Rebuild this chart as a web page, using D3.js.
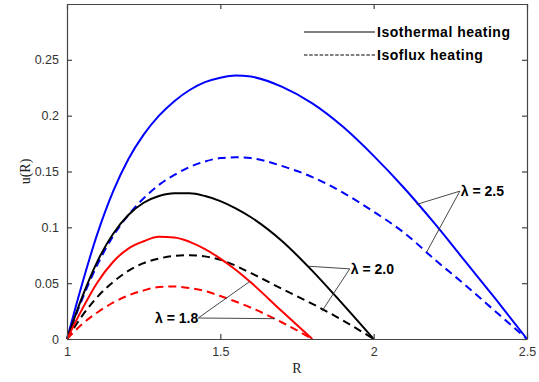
<!DOCTYPE html>
<html lang="en">
<head>
<meta charset="UTF-8">
<title>u(R) profiles</title>
<style>
  body { margin: 0; background: #fff; }
  svg { display: block; }
  .tick text { font-family: 'Liberation Sans', Arial, sans-serif; font-size: 12.5px; fill: #333; }
  .note { font-family: 'Liberation Sans', Arial, sans-serif; font-size: 14px; font-weight: bold; fill: #000; }
  .legend-text { letter-spacing: 0.5px; }
  .axis-title { font-family: 'Liberation Serif', 'Times New Roman', serif; font-size: 14px; fill: #222; }
</style>
</head>
<body>
<svg width="539" height="382"></svg>
<script src="https://d3js.org/d3.v7.min.js"></script>
<script>
// values: [R, u(R)]
const blueSolid = [[1,0],[1.05,0.05],[1.1,0.095],[1.15,0.132],[1.2,0.161],[1.25,0.183],[1.3,0.2],[1.35,0.213],[1.4,0.223],[1.45,0.23],[1.5,0.234],[1.55,0.236],[1.6,0.235],[1.7,0.226],[1.8,0.211],[1.9,0.19],[2.0,0.164],[2.1,0.135],[2.2,0.103],[2.3,0.069],[2.4,0.035],[2.5,0]];
const blueDash = [[1,0],[1.05,0.036],[1.1,0.067],[1.15,0.092],[1.2,0.111],[1.25,0.126],[1.3,0.138],[1.35,0.147],[1.4,0.154],[1.45,0.159],[1.5,0.162],[1.55,0.1627],[1.6,0.162],[1.7,0.155],[1.8,0.145],[1.9,0.131],[2.0,0.114],[2.1,0.095],[2.2,0.071],[2.3,0.048],[2.4,0.024],[2.5,0]];
const blackSolid = [[1,0],[1.05,0.038],[1.1,0.07],[1.15,0.094],[1.2,0.111],[1.25,0.122],[1.3,0.128],[1.35,0.1305],[1.4,0.1305],[1.45,0.128],[1.5,0.1235],[1.55,0.117],[1.6,0.109],[1.7,0.088],[1.8,0.061],[1.9,0.031],[2.0,0]];
const blackDash = [[1,0],[1.05,0.021],[1.1,0.038],[1.15,0.051],[1.2,0.061],[1.25,0.068],[1.3,0.072],[1.35,0.0745],[1.4,0.075],[1.45,0.074],[1.5,0.071],[1.6,0.059],[1.7,0.045],[1.8,0.0315],[1.9,0.0165],[2.0,0]];
const redSolid = [[1,0],[1.05,0.027],[1.1,0.051],[1.15,0.069],[1.2,0.081],[1.25,0.0875],[1.3,0.0915],[1.35,0.091],[1.4,0.087],[1.45,0.0805],[1.5,0.072],[1.55,0.062],[1.6,0.0505],[1.7,0.025],[1.8,0]];
const redDash = [[1,0],[1.05,0.0135],[1.1,0.024],[1.15,0.0325],[1.2,0.039],[1.25,0.0435],[1.3,0.0465],[1.35,0.047],[1.4,0.0457],[1.45,0.043],[1.5,0.0385],[1.6,0.028],[1.7,0.015],[1.8,0]];

const xTicks = [1, 1.5, 2, 2.5];
const yTicks = [0, 0.05, 0.1, 0.15, 0.2, 0.25];

// label anchor and pointer targets in data units
const notes = [
  {text: "λ = 2.5", at: [2.281, 0.1324], anchor: "start", to: [[2.14, 0.1205], [2.173, 0.078]]},
  {text: "λ = 2.0", at: [1.922, 0.0628], anchor: "start", to: [[1.785, 0.0652], [1.831, 0.0248]]},
  {text: "λ = 1.8", at: [1.428, 0.0188], anchor: "end", to: [[1.596, 0.0515], [1.678, 0.0182]]}
];

const svg = d3.select("svg");
const W = 539, H = 382;
const m = {top: 4, right: 12, bottom: 43, left: 67};

const x = d3.scaleLinear().domain([1, 2.5]).range([m.left, W - m.right]);
const y = d3.scaleLinear().domain([0, 0.3]).range([H - m.bottom, m.top]);

const line = d3.line().x(d => x(d[0])).y(d => y(d[1])).curve(d3.curveMonotoneX);

const series = [
  {d: blueSolid, c: "#0000ff", dash: null},
  {d: blueDash, c: "#0000ff", dash: "8,5"},
  {d: blackSolid, c: "#000", dash: null},
  {d: blackDash, c: "#000", dash: "8,5"},
  {d: redSolid, c: "#ff0000", dash: null},
  {d: redDash, c: "#ff0000", dash: "8,5"}
];

svg.append("g").selectAll("path")
  .data(series)
  .join("path")
  .attr("d", s => line(s.d))
  .attr("fill", "none")
  .attr("stroke", s => s.c)
  .attr("stroke-width", 2)
  .attr("stroke-dasharray", s => s.dash);

// axes, ticks pointing inward like the original
const axisColor = "#444";
const gx = svg.append("g").attr("transform", `translate(0,${H - m.bottom})`)
  .call(d3.axisBottom(x).tickValues(xTicks).tickFormat(d3.format("")).tickSizeInner(-5).tickSizeOuter(0).tickPadding(8));
const gy = svg.append("g").attr("transform", `translate(${m.left},0)`)
  .call(d3.axisLeft(y).tickValues(yTicks).tickFormat(d => String(d)).tickSizeInner(-5).tickSizeOuter(0).tickPadding(8));
const gt = svg.append("g").attr("transform", `translate(0,${m.top})`)
  .call(d3.axisTop(x).tickValues(xTicks).tickFormat("").tickSizeInner(-5).tickSizeOuter(0));
const gr = svg.append("g").attr("transform", `translate(${W - m.right},0)`)
  .call(d3.axisRight(y).tickValues(yTicks).tickFormat("").tickSizeInner(-5).tickSizeOuter(0));
[gx, gy, gt, gr].forEach(g => {
  g.selectAll("path, line").attr("stroke", axisColor).attr("stroke-width", 1.2);
});

svg.append("text").attr("class", "axis-title")
  .attr("x", (m.left + W - m.right) / 2).attr("y", 373)
  .attr("text-anchor", "middle").text("R");
svg.append("text").attr("class", "axis-title")
  .attr("transform", `translate(30,${(m.top + H - m.bottom) / 2}) rotate(-90)`)
  .attr("text-anchor", "middle").text("u(R)");

// pointer lines + labels
const ng = svg.append("g");
notes.forEach(n => {
  n.to.forEach(t => {
    ng.append("line")
      .attr("x1", x(n.at[0])).attr("y1", y(n.at[1]))
      .attr("x2", x(t[0])).attr("y2", y(t[1]))
      .attr("stroke", "#333").attr("stroke-width", 0.9);
  });
  ng.append("text").attr("class", "note")
    .attr("x", x(n.at[0]) + (n.anchor === "start" ? 1 : 0))
    .attr("y", y(n.at[1]))
    .attr("dy", "0.35em")
    .attr("text-anchor", n.anchor)
    .text(n.text);
});

// legend
const legendItems = [
  {label: "Isothermal heating", dash: null},
  {label: "Isoflux heating", dash: "3.5,1.7"}
];
const lg = svg.append("g").attr("transform", "translate(304,32)");
legendItems.forEach((it, i) => {
  const row = lg.append("g").attr("transform", `translate(0,${i * 23})`);
  row.append("line").attr("x1", 0).attr("x2", 71).attr("y1", 0).attr("y2", 0)
    .attr("stroke", "#000").attr("stroke-width", 1)
    .attr("stroke-dasharray", it.dash);
  row.append("text").attr("class", "note legend-text").attr("x", 73).attr("dy", "0.35em").text(it.label);
});
</script>
</body>
</html>
